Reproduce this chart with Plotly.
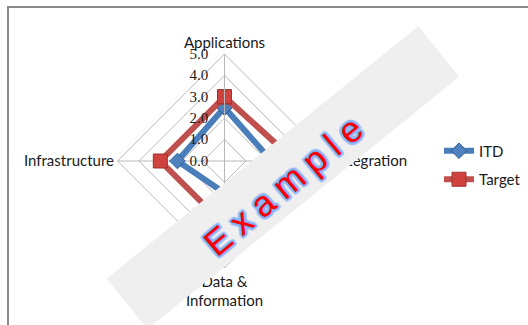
import plotly.graph_objects as go

# Capability areas (clockwise from the top)
categories = ["Applications", "Integration", "Data &<br>Information", "Infrastructure"]

# Maturity scores
itd_scores = [2.5, 2.2, 1.5, 2.2]
target_scores = [3.0, 3.3, 3.0, 3.0]

radial_ticks = [0, 1, 2, 3, 4, 5]
radial_tick_text = ["0.0", "1.0", "2.0", "3.0", "4.0", "5.0"]

W, H = 528, 325


def closed(values):
    return list(values) + [values[0]]


fig = go.Figure()

fig.add_trace(go.Scatterpolar(
    r=closed(itd_scores),
    theta=closed(categories),
    name="ITD",
    mode="lines+markers",
    line=dict(color="#4a7ebb", width=6),
    marker=dict(symbol="diamond", size=12, color="#4f81bd",
                line=dict(color="#2f5f98", width=1)),
    legendgroup="itd",
))

fig.add_trace(go.Scatterpolar(
    r=closed(target_scores),
    theta=closed(categories),
    name="Target",
    mode="lines+markers",
    line=dict(color="#c0504d", width=6),
    marker=dict(symbol="square", size=14, color="#d0423f",
                line=dict(color="#9c3431", width=1)),
    legendgroup="target",
))

# Chart centre and radius in page pixels
cx, cy, rad = 224.5, 161, 107

grid_col = "#b8b8b8"

# pad the value labels so they sit clear of the vertical spoke
pad = "\u2002\u2009"

fig.update_layout(
    width=W, height=H,
    margin=dict(l=0, r=0, t=0, b=0),
    paper_bgcolor="white",
    plot_bgcolor="white",
    showlegend=True,
    polar=dict(
        domain=dict(x=[(cx - rad) / W, (cx + rad) / W],
                    y=[1 - (cy + rad) / H, 1 - (cy - rad) / H]),
        bgcolor="white",
        gridshape="linear",
        angularaxis=dict(
            direction="clockwise",
            rotation=90,
            categoryorder="array",
            categoryarray=categories,
            showline=True,
            linecolor=grid_col,
            linewidth=1,
            gridcolor=grid_col,
            gridwidth=1,
            ticks="",
            tickfont=dict(family="Lato", size=15, color="#1a1a1a"),
        ),
        radialaxis=dict(
            range=[0, 5],
            tickvals=radial_ticks,
            ticktext=[t + pad for t in radial_tick_text],
            angle=90,
            side="counterclockwise",
            tickangle=90,
            showline=True,
            linecolor=grid_col,
            linewidth=1,
            gridcolor=grid_col,
            gridwidth=1,
            ticks="",
            tickfont=dict(family="Liberation Serif", size=15, color="#1a1a1a"),
        ),
    ),
    legend=dict(
        x=439 / W, y=1 - 165 / H,
        xanchor="left", yanchor="middle",
        bgcolor="rgba(0,0,0,0)",
        borderwidth=0,
        traceorder="grouped",
        tracegroupgap=6,
        font=dict(family="Lato", size=15, color="#1a1a1a"),
    ),
)

# Outer chart-area frame (left and top edges visible)
fig.add_shape(type="rect", xref="paper", yref="paper",
              x0=8 / W, x1=1.2, y0=-0.2, y1=1 - 7 / H,
              line=dict(color="#8a8a8a", width=2), fillcolor="rgba(0,0,0,0)",
              layer="above")

# Watermark: grey diagonal band with the word "Example"
band_cx, band_cy = 282.5, 178
fig.add_annotation(
    x=band_cx / W, y=1 - band_cy / H, xref="paper", yref="paper",
    xanchor="center", yanchor="middle",
    text=" ", showarrow=False,
    width=400, height=64,
    bgcolor="#efefef", borderpad=0,
    textangle=-39,
)

glow = "#8fb6f7"
outline = ", ".join(f"{dx}px {dy}px 1px {glow}"
                    for dx, dy in [(2, 0), (-2, 0), (0, 2), (0, -2),
                                   (2, 2), (-2, 2), (2, -2), (-2, -2)])
sp = "\u2005"
fig.add_annotation(
    x=(band_cx + 0) / W, y=1 - (band_cy + 8) / H, xref="paper", yref="paper",
    xanchor="center", yanchor="middle",
    text=sp.join("Example"), showarrow=False,
    textangle=-40,
    font=dict(family="Liberation Sans", size=36, color="#ff0000",
              shadow="0 0 1px #3a74e0, " + outline + ", 0 0 4px #5d8fe8"),
)

fig.write_html("out.html")
